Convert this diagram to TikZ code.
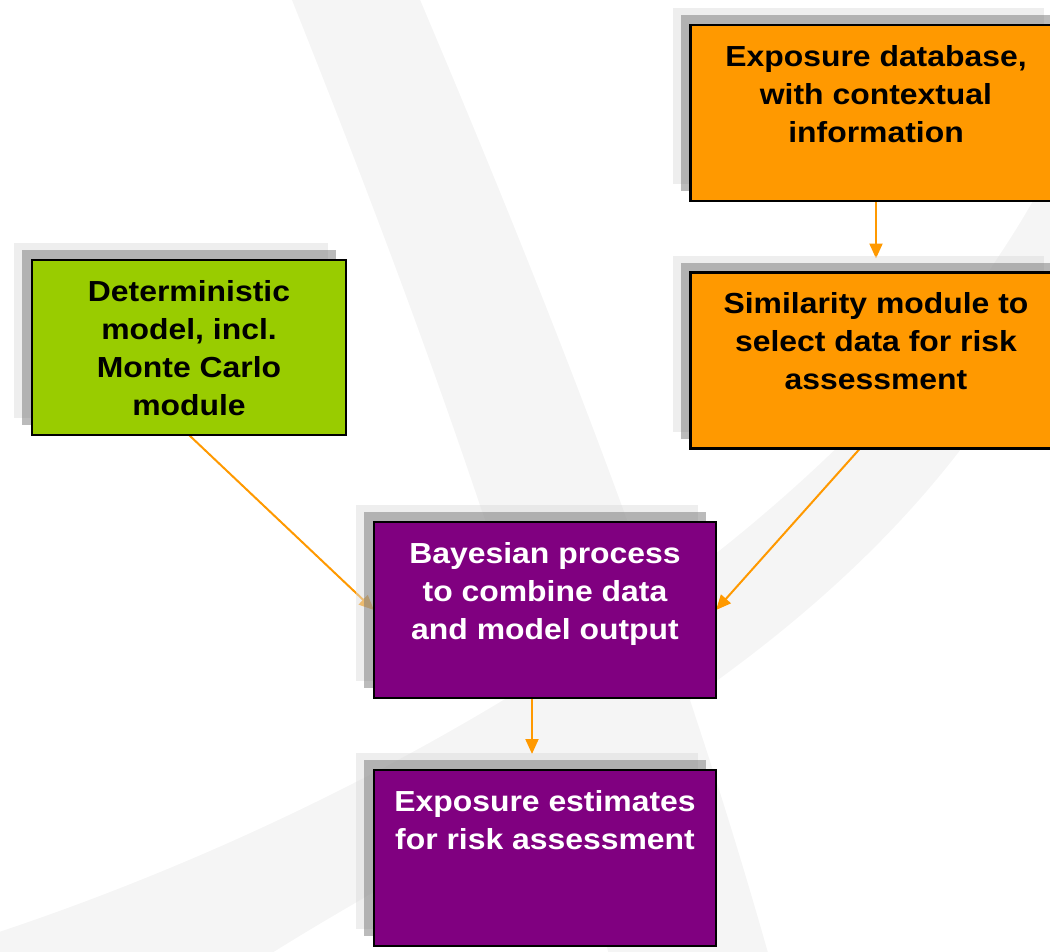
\documentclass[tikz,border=0pt]{standalone}
\usepackage{fontspec}
\newfontfamily\boxfont[FakeStretch=1.10]{Liberation Sans}
\usetikzlibrary{arrows.meta,shadows,calc}

\definecolor{boxorange}{RGB}{255,153,0}
\definecolor{boxgreen}{RGB}{153,204,0}
\definecolor{boxpurple}{RGB}{128,0,128}
\definecolor{swoosh}{RGB}{245,245,245}
\definecolor{shadelight}{RGB}{221,221,221}
\definecolor{shadedark}{RGB}{120,120,120}

\pgfdeclarelayer{bands}
\pgfdeclarelayer{links}
\pgfsetlayers{bands,links,main}

\tikzset{
  stackshadow/.style={
    general shadow={shadow xshift=-18pt, shadow yshift=17pt,
      fill=shadelight, fill opacity=0.5, draw=none},
    general shadow={shadow xshift=-10pt, shadow yshift=10pt,
      fill=shadedark, fill opacity=0.5, draw=none}},
  flowbox/.style={rectangle, draw=black, line width=2.5pt,
    inner sep=0pt, outer sep=0pt, stackshadow},
  boxtext/.style={anchor=north, yshift=-20pt, inner sep=0pt, align=center,
    font=\boxfont\bfseries\fontsize{29pt}{38pt}\selectfont},
  link/.style={draw=boxorange, line width=2pt,
    -{Triangle[length=15pt,width=13pt]}},
}

\begin{document}
\begin{tikzpicture}[x=1pt,y=-1pt]
  \useasboundingbox (0,0) rectangle (1050,951);
  \clip (0,0) rectangle (1050,951);

  % faint swoosh in the background
  \begin{pgfonlayer}{bands}
    \fill[swoosh] (290,-5) .. controls (420,320) and (540,650) .. (610,960)
      -- (770,960) .. controls (680,640) and (560,330) .. (418,-5) -- cycle;
    \fill[swoosh] (-10,935) .. controls (400,800) and (880,520) .. (1060,150)
      -- (1085,230) .. controls (920,650) and (500,800) .. (230,980)
      -- (-10,980) -- cycle;
  \end{pgfonlayer}

  % boxes
  \node[flowbox, fill=boxorange, minimum width=371pt, minimum height=176pt,
    label={[boxtext, text=black]north:{Exposure database,\\with contextual\\information}}]
    (db) at (876,113) {};
  \node[flowbox, fill=boxorange, minimum width=371pt, minimum height=176pt,
    label={[boxtext, text=black]north:{Similarity module to\\select data for risk\\assessment}}]
    (sim) at (876,360.5) {};
  \node[flowbox, fill=boxgreen, minimum width=314pt, minimum height=175pt,
    label={[boxtext, text=black]north:{Deterministic\\model, incl.\\Monte Carlo\\module}}]
    (model) at (189,347.5) {};
  \node[flowbox, fill=boxpurple, minimum width=342pt, minimum height=176pt,
    label={[boxtext, text=white]north:{Bayesian process\\to combine data\\and model output}}]
    (bay) at (545,610) {};
  \node[flowbox, fill=boxpurple, minimum width=342pt, minimum height=176pt,
    label={[boxtext, text=white]north:{Exposure estimates\\for risk assessment}}]
    (est) at (545,858) {};

  % connectors, drawn beneath the boxes and their shadows
  \begin{pgfonlayer}{links}
    \draw[link, shorten >=14pt] (db.south) -- (sim.north);
    \draw[link] (model.south) -- (bay.west);
    \draw[link] ($(sim.south)+(-16,0)$) -- (bay.east);
    \draw[link, shorten >=16pt] ($(bay.south)+(-13,0)$) -- ($(est.north)+(-13,0)$);
  \end{pgfonlayer}
\end{tikzpicture}
\end{document}
